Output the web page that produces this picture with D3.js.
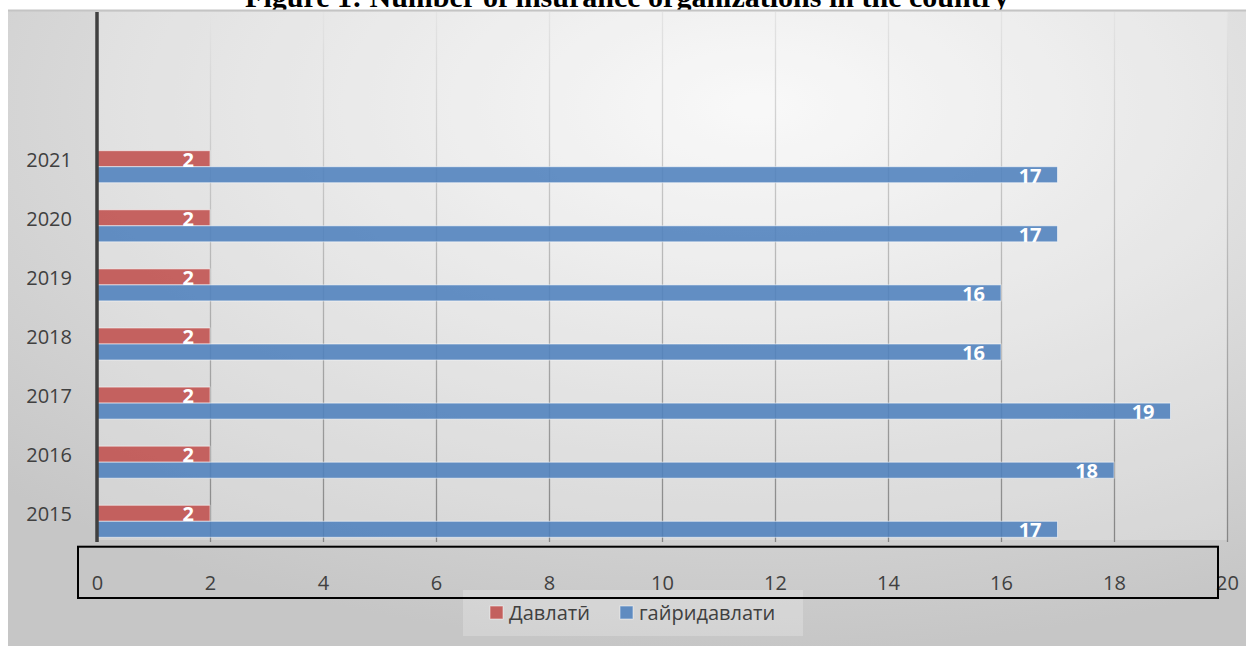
<!DOCTYPE html>
<html>
<head>
<meta charset="utf-8">
<script src="https://cdn.jsdelivr.net/npm/d3@7/dist/d3.min.js"></script>
<style>
    body { margin: 0; background: #fff; }
    svg { display: block; }
</style>
</head>
<body>
<svg id="chart" width="1246" height="646"></svg>
<script>
var years = ["2015", "2016", "2017", "2018", "2019", "2020", "2021"];
var seriesNames = ["Давлатӣ", "гайридавлати"];
var stateValues = [2, 2, 2, 2, 2, 2, 2];
var nonStateValues = [17, 18, 19, 16, 16, 17, 17];
var xTicks = [0, 2, 4, 6, 8, 10, 12, 14, 16, 18, 20];
var seriesColors = ["#c0504d", "#4f81bd"];

var data = years.map(function (y, i) {
    return {year: y, values: [stateValues[i], nonStateValues[i]]};
});

var svg = d3.select("#chart");
var defs = svg.append("defs");

// background gradients
var bg = defs.append("radialGradient")
    .attr("id", "bgGrad")
    .attr("cx", 0.6).attr("cy", 0.15).attr("r", 0.85);
bg.append("stop").attr("offset", "0%").attr("stop-color", "#f7f7f7");
bg.append("stop").attr("offset", "100%").attr("stop-color", "#c6c6c6");

var grid = defs.append("linearGradient")
    .attr("id", "gridGrad")
    .attr("gradientUnits", "userSpaceOnUse")
    .attr("x1", 0).attr("x2", 0)
    .attr("y1", -530).attr("y2", 0);
grid.append("stop").attr("offset", "0%").attr("stop-color", "#e4e4e4");
grid.append("stop").attr("offset", "100%").attr("stop-color", "#858585");

// Title (partly cut off by the top of the page)
svg.append("text")
    .attr("x", 627)
    .attr("y", 7)
    .attr("text-anchor", "middle")
    .attr("font-family", "'Liberation Serif', 'Times New Roman', serif")
    .attr("font-weight", "bold")
    .attr("font-size", "30px")
    .attr("fill", "#000")
    .text("Figure 1: Number of insurance organizations in the country");

// chart area
svg.append("rect")
    .attr("x", 8).attr("y", 10)
    .attr("width", 1246).attr("height", 640)
    .attr("fill", "url(#bgGrad)");
svg.append("line")
    .attr("x1", 8).attr("x2", 1246)
    .attr("y1", 10.5).attr("y2", 10.5)
    .attr("stroke", "#c4c4c4")
    .attr("stroke-width", 2);

var margin = {top: 12, left: 97, right: 1227, bottom: 542};

var x = d3.scaleLinear().domain([0, 20]).range([margin.left, margin.right]);
var y = d3.scaleBand().domain(years).range([537.3, 150.7])
    .paddingInner(0.458).paddingOuter(0);
var ySub = d3.scaleBand().domain([0, 1]).range([0, y.bandwidth()]);

// plot area overlay
svg.append("rect")
    .attr("x", margin.left).attr("y", margin.top)
    .attr("width", margin.right - margin.left)
    .attr("height", margin.bottom - 2 - margin.top)
    .attr("fill", "#fff")
    .attr("fill-opacity", 0.22);

// X axis with gridlines
var xAxis = svg.append("g")
    .attr("class", "axis axis--x")
    .attr("transform", "translate(0," + margin.bottom + ")")
    .call(d3.axisBottom(x).tickValues(xTicks).tickSize(-530).tickPadding(34));

xAxis.select(".domain").remove();
xAxis.selectAll(".tick line")
    .attr("stroke", "url(#gridGrad)")
    .attr("stroke-width", 1.3);
xAxis.selectAll(".tick text")
    .attr("fill", "#404040")
    .attr("font-family", "'Open Sans', sans-serif")
    .attr("font-size", "20px");

// Bars
var groups = svg.append("g")
    .selectAll(".bar-group")
    .data(data)
    .enter()
    .append("g")
    .attr("class", "bar-group")
    .attr("transform", function (d) {
        return "translate(0," + y(d.year) + ")";
    });

groups.selectAll(".bar")
    .data(function (d) {
        return d.values.map(function (v, i) { return {v: v, s: i}; });
    })
    .enter()
    .append("rect")
    .attr("class", "bar")
    .attr("x", x(0))
    .attr("y", function (d) { return ySub(d.s); })
    .attr("width", function (d) { return x(d.v) - x(0); })
    .attr("height", ySub.bandwidth())
    .attr("fill", function (d) { return seriesColors[d.s]; })
    .attr("fill-opacity", 0.88)
    .attr("stroke", "rgba(255,255,255,0.55)")
    .attr("stroke-width", 1);

// Values on bars
groups.selectAll(".bar-label")
    .data(function (d) {
        return d.values.map(function (v, i) { return {v: v, s: i}; });
    })
    .enter()
    .append("text")
    .attr("class", "bar-label")
    .attr("text-anchor", "end")
    .attr("x", function (d) { return x(d.v) - 16; })
    .attr("y", function (d) { return ySub(d.s) + ySub.bandwidth() / 2 + 1; })
    .attr("dy", ".35em")
    .attr("fill", "#fff")
    .attr("font-family", "'Open Sans', sans-serif")
    .attr("font-weight", "bold")
    .attr("font-size", "20px")
    .text(function (d) { return d.v; });

// zero axis line
svg.append("line")
    .attr("x1", x(0)).attr("x2", x(0))
    .attr("y1", margin.top).attr("y2", margin.bottom)
    .attr("stroke", "#404040")
    .attr("stroke-width", 3.5);

// Year labels
svg.append("g")
    .selectAll(".year")
    .data(years)
    .enter()
    .append("text")
    .attr("class", "year")
    .attr("x", 72)
    .attr("y", function (d) { return y(d) + 9; })
    .attr("dy", ".35em")
    .attr("text-anchor", "end")
    .attr("fill", "#404040")
    .attr("font-family", "'Open Sans', sans-serif")
    .attr("font-size", "20px")
    .text(function (d) { return d; });

// Legend
var legend = svg.append("g").attr("class", "legend");
legend.append("rect")
    .attr("x", 463).attr("y", 590)
    .attr("width", 340).attr("height", 46)
    .attr("fill", "#fff")
    .attr("fill-opacity", 0.22);

var legendX = [490, 620];
seriesNames.forEach(function (name, i) {
    legend.append("rect")
        .attr("x", legendX[i]).attr("y", 606)
        .attr("width", 13).attr("height", 13)
        .attr("fill", seriesColors[i])
        .attr("fill-opacity", 0.88)
        .attr("stroke", "rgba(255,255,255,0.5)");
    legend.append("text")
        .attr("x", legendX[i] + 19)
        .attr("y", 613)
        .attr("dy", ".35em")
        .attr("fill", "#404040")
        .attr("font-family", "'Open Sans', sans-serif")
        .attr("font-size", "20px")
        .text(name);
});

// black frame around axis labels
svg.append("rect")
    .attr("x", 78).attr("y", 546.7)
    .attr("width", 1140).attr("height", 51.3)
    .attr("fill", "none")
    .attr("stroke", "#000")
    .attr("stroke-width", 2);
</script>
</body>
</html>
